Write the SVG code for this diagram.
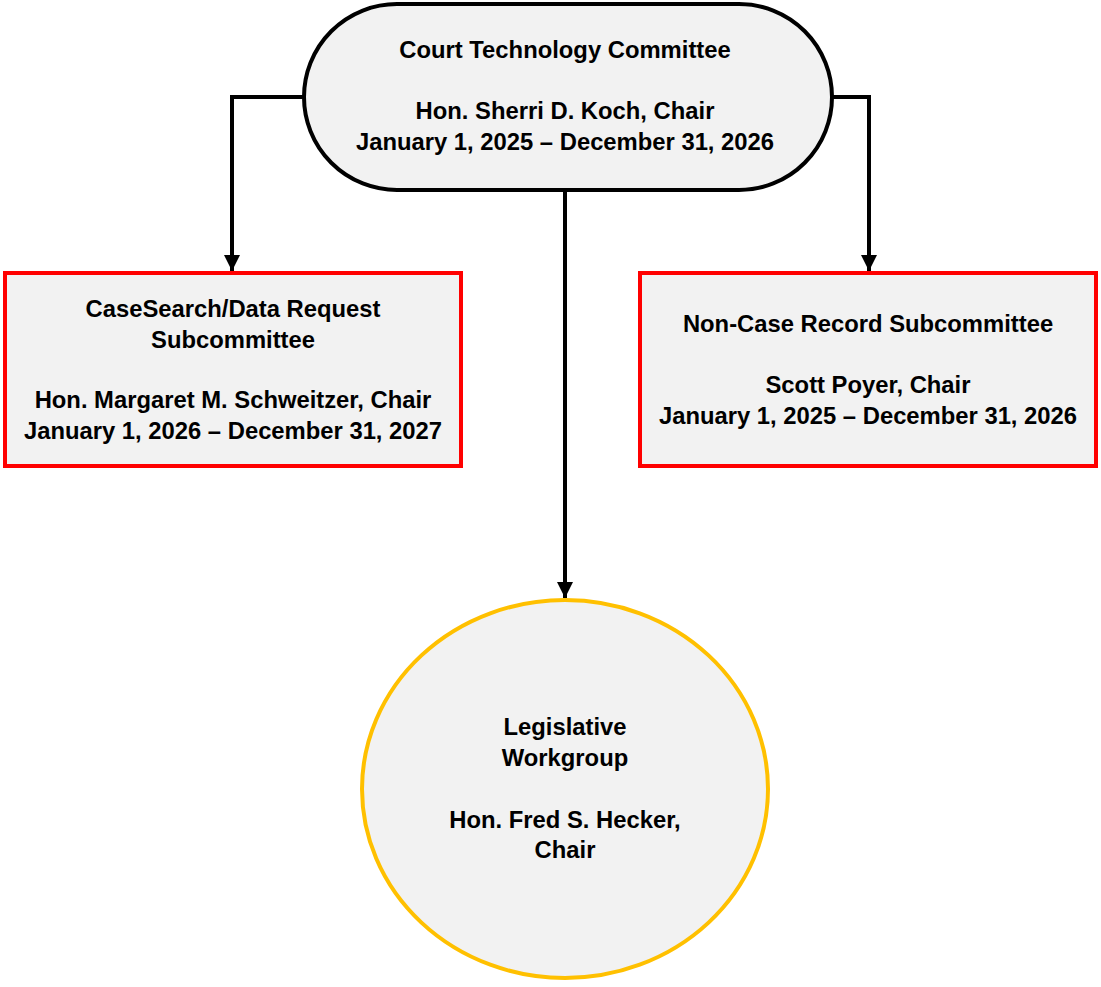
<svg xmlns="http://www.w3.org/2000/svg" width="1101" height="987" viewBox="0 0 1101 987">
<defs>
<style>
.t{font-family:"Liberation Sans",Arial,sans-serif;font-weight:bold;font-size:23.8px;fill:#000;text-anchor:middle}
.c{fill:none;stroke:#000;stroke-width:4}
.sub{fill:#f2f2f2;stroke:#ff0000;stroke-width:4}
</style>
<marker id="ah" markerWidth="4" markerHeight="4" refX="4" refY="2" orient="auto" markerUnits="strokeWidth">
<path d="M0,0 L4,2 L0,4 Z" fill="#000"/>
</marker>
</defs>
<rect width="1101" height="987" fill="#fff"/>
<g id="connectors">
<polyline class="c" points="306,97 232,97 232,271" marker-end="url(#ah)"/>
<polyline class="c" points="830,97 869,97 869,271" marker-end="url(#ah)"/>
<polyline class="c" points="565,190 565,598" marker-end="url(#ah)"/>
</g>
<g id="ctc">
<rect x="304" y="4" width="528" height="186" rx="93" ry="93" fill="#f2f2f2" stroke="#000" stroke-width="4"/>
<text class="t" x="565" y="58">Court Technology Committee</text>
<text class="t" x="565" y="119">Hon. Sherri D. Koch, Chair</text>
<text class="t" x="565" y="150">January 1, 2025 – December 31, 2026</text>
</g>
<g id="casesearch">
<rect class="sub" x="5" y="273" width="456" height="193"/>
<text class="t" x="233" y="317">CaseSearch/Data Request</text>
<text class="t" x="233" y="348">Subcommittee</text>
<text class="t" x="233" y="408">Hon. Margaret M. Schweitzer, Chair</text>
<text class="t" x="233" y="439">January 1, 2026 – December 31, 2027</text>
</g>
<g id="noncase">
<rect class="sub" x="640" y="273" width="456" height="193"/>
<text class="t" x="868" y="332">Non-Case Record Subcommittee</text>
<text class="t" x="868" y="393">Scott Poyer, Chair</text>
<text class="t" x="868" y="424">January 1, 2025 – December 31, 2026</text>
</g>
<g id="legislative">
<ellipse cx="565" cy="789" rx="203" ry="189" fill="#f2f2f2" stroke="#ffc000" stroke-width="4"/>
<text class="t" x="565" y="735">Legislative</text>
<text class="t" x="565" y="766">Workgroup</text>
<text class="t" x="565" y="828">Hon. Fred S. Hecker,</text>
<text class="t" x="565" y="858">Chair</text>
</g>
</svg>
